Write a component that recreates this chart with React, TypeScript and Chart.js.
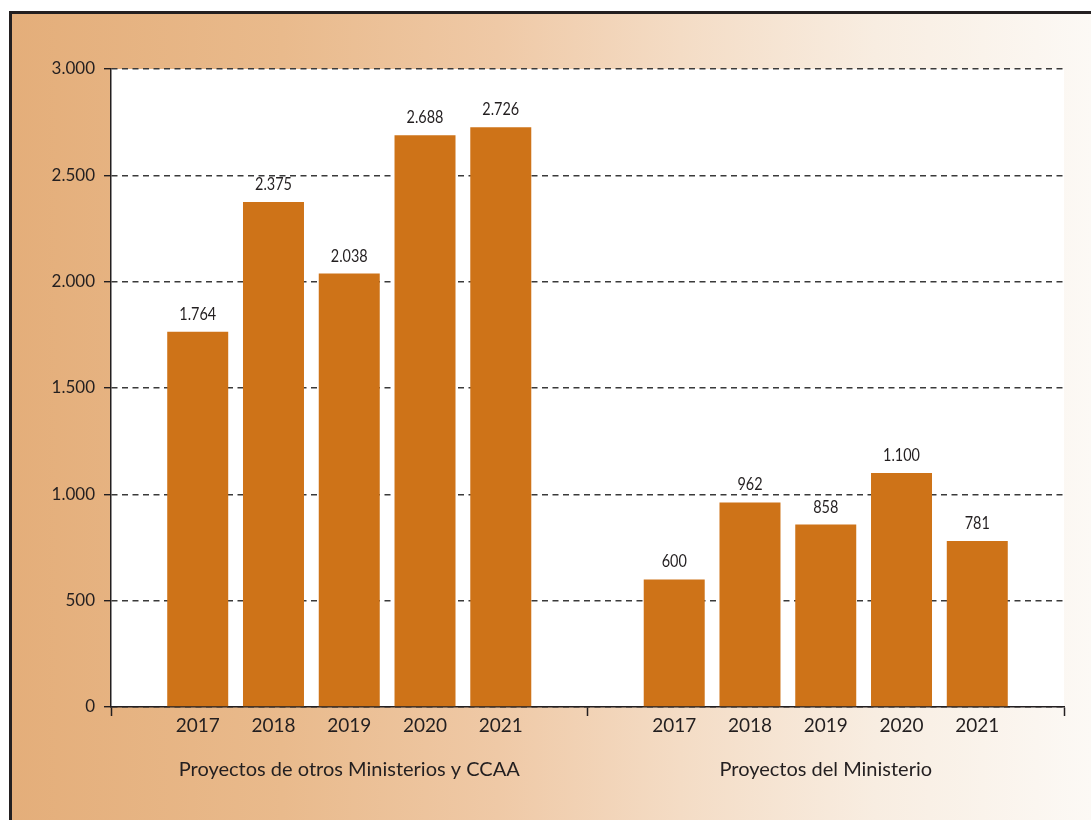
import React, { useEffect, useRef } from "react";
import { Chart, registerables } from "chart.js";

Chart.register(...registerables);

const groups = ["Proyectos de otros Ministerios y CCAA", "Proyectos del Ministerio"];
const years = ["2017", "2018", "2019", "2020", "2021"];
const otrosValues = [1764, 2375, 2038, 2688, 2726];
const ministerioValues = [600, 962, 858, 1100, 781];
const yTicks = [0, 500, 1000, 1500, 2000, 2500, 3000];

const BAR = "#CE7318";
const TEXT = "#231F20";
const FONT = "Lato, 'Open Sans', sans-serif";

const fmt = (n: number) => String(Math.round(n)).replace(/\B(?=(\d{3})+(?!\d))/g, ".");

const labelsPlugin = {
  id: "barLabels",
  beforeDraw(chart: any) {
    const { ctx, chartArea } = chart;
    ctx.save();
    ctx.fillStyle = "#ffffff";
    ctx.fillRect(chartArea.left, chartArea.top, chartArea.right - chartArea.left, chartArea.bottom - chartArea.top);
    ctx.restore();
  },
  afterDatasetsDraw(chart: any) {
    const { ctx, chartArea } = chart;
    ctx.save();
    ctx.fillStyle = TEXT;
    chart.data.datasets.forEach((ds: any, di: number) => {
      const meta = chart.getDatasetMeta(di);
      meta.data.forEach((el: any, i: number) => {
        const v = ds.data[i];
        ctx.save();
        ctx.translate(el.x, el.y - 12);
        ctx.scale(0.85, 1);
        ctx.font = `17px ${FONT}`;
        ctx.textAlign = "center";
        ctx.textBaseline = "alphabetic";
        ctx.fillText(fmt(v), 0, 0);
        ctx.restore();
        ctx.font = `19px ${FONT}`;
        ctx.textAlign = "center";
        ctx.textBaseline = "alphabetic";
        ctx.fillText(ds.label, el.x, chartArea.bottom + 25);
      });
    });
    ctx.restore();
  },
};

export default function App() {
  const ref = useRef<HTMLCanvasElement | null>(null);

  useEffect(() => {
    if (!ref.current) return;
    const datasets = years.map((y, i) => ({
      label: y,
      data: [otrosValues[i], ministerioValues[i]],
      backgroundColor: BAR,
      borderWidth: 0,
      categoryPercentage: 0.795,
      barPercentage: 0.805,
    }));
    const chart = new Chart(ref.current, {
      type: "bar",
      data: { labels: groups, datasets },
      plugins: [labelsPlugin],
      options: {
        responsive: false,
        animation: false,
        layout: { padding: { left: 0, right: 27, top: 69, bottom: 0 } },
        plugins: {
          legend: { display: false },
          tooltip: { enabled: false },
          title: { display: false },
        },
        scales: {
          x: {
            type: "category",
            offset: true,
            grid: {
              display: true,
              offset: true,
              drawOnChartArea: false,
              drawTicks: true,
              tickLength: 9,
              tickColor: TEXT,
              tickWidth: 1.5,
            },
            border: { display: true, color: TEXT, width: 1.5 },
            ticks: {
              color: TEXT,
              font: { family: FONT, size: 20 },
              padding: 42,
              maxRotation: 0,
              autoSkip: false,
            },
            afterFit: (s: any) => {
              s.height = 113;
            },
          },
          y: {
            min: 0,
            max: 3000,
            afterBuildTicks: (s: any) => {
              s.ticks = yTicks.map((v) => ({ value: v }));
            },
            grid: {
              display: true,
              color: "#3a3a3a",
              lineWidth: 1.4,
              drawTicks: true,
              tickLength: 7,
              tickColor: TEXT,
              tickWidth: 1.4,
              tickBorderDash: [],
            },
            border: { display: true, color: TEXT, width: 1.5, dash: [6, 4.5] },
            ticks: {
              color: TEXT,
              font: { family: FONT, size: 17 },
              padding: 9,
              callback: (v: any) => fmt(Number(v)),
            },
            afterFit: (s: any) => {
              s.width = 111;
            },
          },
        },
      },
    });
    return () => chart.destroy();
  }, []);

  return (
    <div style={{ position: "fixed", left: 0, top: 0, width: 1091, height: 820, background: "#ffffff", overflow: "hidden" }}>
      <div
        style={{
          position: "absolute",
          left: 9,
          top: 11,
          width: 1082,
          height: 809,
          boxSizing: "border-box",
          borderLeft: `3px solid ${TEXT}`,
          borderTop: `3px solid ${TEXT}`,
          background:
            "linear-gradient(to right, #E4AE7A 0%, #E9BA8C 25%, #EFC9A6 45%, #F4DCC5 62%, #F8EDE1 80%, #FCF9F5 100%)",
        }}
      />
      <canvas ref={ref} width={1091} height={820} style={{ position: "absolute", left: 0, top: 0 }} />
    </div>
  );
}
